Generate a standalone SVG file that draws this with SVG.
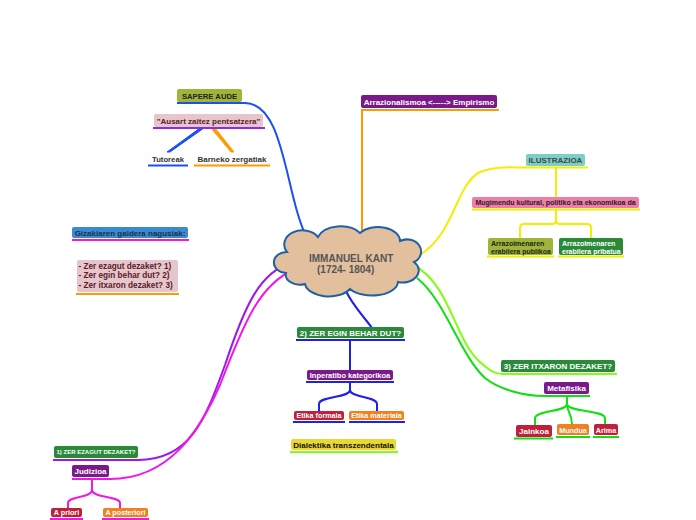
<svg xmlns="http://www.w3.org/2000/svg" width="696" height="520" viewBox="0 0 696 520">
<style>
text{font-family:"Liberation Sans",Arial,sans-serif;font-weight:bold;font-size:8px}
.c{text-anchor:middle}
.w{fill:#ffffff}
.k{fill:#222222}
.m{fill:#5a1a2a}
.ul{fill:none;stroke-width:2}
.cn{fill:none;stroke-width:2}
.blue{stroke:#1a50f0}
.purp{stroke:#8a2ce8}
.ora{stroke:#ff9a00}
.yel{stroke:#f0f000}
.mag{stroke:#f018e8}
.dblue{stroke:#2020e8}
.lime{stroke:#80ff10}
.grn{stroke:#10e010}
.viol{stroke:#9a18f0}
.g{fill:#2a8a3a}
.p{fill:#7a1a8a}
.r{fill:#c0203a}
.o{fill:#f08020}
.ol{fill:#9fb53a}
.pk{fill:#e6c6ca}
</style>
<g id="connectors">
<path class="cn blue" d="M245,103 C285,103 285,195 307,238"/>
<path class="cn ora" d="M362,110 V234"/>
<path class="cn yel" d="M418,256 C455,235 455,185 480,172 C495,166 510,167.5 524,167.5"/>
<path class="cn yel" d="M556,167 V197"/>
<path class="cn yel" d="M556,209 V220 Q556,224 552,224 H524 Q520,224 520,228 V238"/>
<path class="cn yel" d="M556,220 Q556,224 560,224 H587 Q591,224 591,228 V238"/>
<path class="cn lime" d="M415,266 C450,285 455,340 480,362 C490,371 495,374 503,374"/>
<path class="cn grn" d="M417,278 C445,300 460,355 485,378 C500,390 525,396 544,396"/>
<path class="cn dblue" d="M345,289 C352,305 365,318 372,328"/>
<path class="cn dblue" d="M350,340 V370"/>
<path class="cn dblue" d="M350,382 V390 C350,398 319,396 319,404 V411"/>
<path class="cn dblue" d="M350,390 C350,398 377,396 377,404 V411"/>
<path class="cn grn" d="M567,396 V404 C567,412 536,410 535,418 V425"/>
<path class="cn grn" d="M567,404 C567,412 572,414 572,424"/>
<path class="cn grn" d="M567,404 C567,412 604,410 605,418 V424"/>
<path class="cn viol" d="M138,460 C190,460 205,420 225,365 C245,305 260,272 291,263"/>
<path class="cn mag" d="M110,479 C170,479 200,430 220,385 C245,320 260,285 293,270"/>
<path class="cn mag" d="M92,479 V490 C92,498 68,496 68,503 V508"/>
<path class="cn mag" d="M92,490 C92,498 120,496 120,503 V508"/>
<path fill="#1a50f0" stroke="#1a50f0" stroke-width="1" d="M200,128 L167,152 L170,152 L204,128 Z"/>
<path fill="#ff9a00" stroke="#ff9a00" stroke-width="1" d="M211,128 L231,152 L234,152 L215,128 Z"/>
</g>
<g id="kant">
<path fill="#e2c09e" stroke="#1f5fa8" stroke-width="2" d="M287,252 A18,14 0 0 1 318,237 A24,16 0 0 1 360,233 A22,14 0 0 1 400,241 A14,12 0 0 1 414,262 A16,12 0 0 1 398,282 A26,14 0 0 1 350,289 A24,14 0 0 1 305,284 A14,10 0 0 1 286,273 A12,10 0 0 1 287,252 Z"/>
<text x="309" y="262" style="font-size:10px;fill:#555555">IMMANUEL KANT</text>
<text x="317" y="272.5" style="font-size:10px;fill:#555555">(1724- 1804)</text>
</g>
<g id="sapere">
<rect class="ol" x="177" y="89" width="65" height="13" rx="2"/>
<text class="c k" x="209.5" y="98.5" style="font-size:7.7px">SAPERE AUDE</text>
<path class="ul blue" d="M177,103 H246"/>
</g>
<g id="ausart">
<rect class="pk" x="154" y="114" width="109" height="13" rx="2"/>
<text class="c m" x="208.5" y="123.5">"Ausart zaitez pentsatzera"</text>
<path class="ul purp" d="M153,128 H265"/>
</g>
<g id="tutoreak">
<text class="c" x="168" y="161.5" style="fill:#333333;font-size:7.7px">Tutoreak</text>
<path class="ul blue" d="M148,165.5 H188"/>
</g>
<g id="barneko">
<text class="c" x="232" y="161.5" style="fill:#333333">Barneko zergatiak</text>
<path class="ul ora" d="M194,165.5 H270"/>
</g>
<g id="arrazionalismoa">
<rect class="p" x="361" y="95" width="136" height="13" rx="2"/>
<text class="c w" x="429" y="104.5">Arrazionalismoa &lt;-----&gt; Empirismo</text>
<path class="ul ora" d="M361,110 H499"/>
</g>
<g id="ilustrazioa">
<rect x="526" y="154" width="59" height="12" rx="2" fill="#7ccfc6"/>
<text class="c" x="555.5" y="163" style="fill:#444444">ILUSTRAZIOA</text>
<path class="ul yel" d="M524,167.5 H588"/>
</g>
<g id="mugimendu">
<rect x="472" y="197" width="167" height="11" rx="2" fill="#f07ca8"/>
<text class="c k" x="555.5" y="205" style="font-size:7px">Mugimendu kultural, politiko eta ekonomikoa da</text>
<path class="ul yel" d="M472,209.5 H640"/>
</g>
<g id="publikoa">
<rect class="ol" x="488" y="238" width="65" height="17" rx="2"/>
<text class="k" x="491" y="246" style="font-size:7px">Arrazoimenaren</text>
<text class="k" x="491" y="253.5" style="font-size:7px">erabilera publikoa</text>
<path class="ul yel" d="M487,256.5 H554"/>
</g>
<g id="pribatua">
<rect class="g" x="559" y="238" width="64" height="17" rx="2"/>
<text class="w" x="562" y="246" style="font-size:7px">Arrazoimenaren</text>
<text class="w" x="562" y="253.5" style="font-size:7px">erabilera pribatua</text>
<path class="ul yel" d="M558,256.5 H624"/>
</g>
<g id="gizakiaren">
<rect x="72" y="227" width="116" height="11" rx="2" fill="#3a8ad0"/>
<text class="c" x="130" y="235.5" style="fill:#1a3050">Gizakiaren galdera nagusiak:</text>
<path class="ul mag" d="M72,240 H189"/>
</g>
<g id="galderak">
<rect class="pk" x="77" y="260" width="101" height="32" rx="2"/>
<text class="m" x="78.5" y="268.5" style="font-size:8.2px">- Zer ezagut dezaket? 1)</text>
<text class="m" x="78.5" y="278" style="font-size:8.2px">- Zer egin behar dut? 2)</text>
<text class="m" x="78.5" y="287.5" style="font-size:8.2px">- Zer itxaron dezaket? 3)</text>
<path class="ul ora" d="M76,294 H179"/>
</g>
<g id="zer-egin">
<rect class="g" x="297" y="327" width="107" height="11" rx="2"/>
<text class="c w" x="350.5" y="335.5">2) ZER EGIN BEHAR DUT?</text>
<path class="ul dblue" d="M296,340 H405"/>
</g>
<g id="inperatibo">
<rect class="p" x="307" y="370" width="86" height="10" rx="2"/>
<text class="c w" x="350" y="378" style="font-size:7.5px">Inperatibo kategorikoa</text>
<path class="ul dblue" d="M306,382 H394"/>
</g>
<g id="etika-formala">
<rect class="r" x="294" y="411" width="50" height="9" rx="2"/>
<text class="c w" x="319" y="418.3" style="font-size:7.2px">Etika formala</text>
<path class="ul dblue" d="M293,422 H345"/>
</g>
<g id="etika-materiala">
<rect class="o" x="349" y="411" width="55" height="9" rx="2"/>
<text class="c w" x="376.5" y="418.3" style="font-size:7.2px">Etika materiala</text>
<path class="ul dblue" d="M349,422 H405"/>
</g>
<g id="dialektika">
<rect x="291" y="439" width="105" height="11" rx="2" fill="#e8d830"/>
<text class="c" x="343.5" y="447.5" style="fill:#111111">Dialektika transzendentala</text>
<path class="ul lime" d="M290,452 H398"/>
</g>
<g id="zer-itxaron">
<rect class="g" x="501" y="360" width="114" height="12" rx="2"/>
<text class="c w" x="558" y="369">3) ZER ITXARON DEZAKET?</text>
<path class="ul lime" d="M501,374 H617"/>
</g>
<g id="metafisika">
<rect class="p" x="544" y="382" width="45" height="12" rx="2"/>
<text class="c w" x="566.5" y="391">Metafisika</text>
<path class="ul grn" d="M543,396 H590"/>
</g>
<g id="jainkoa">
<rect class="r" x="516" y="425" width="36" height="12" rx="2"/>
<text class="c w" x="534" y="434">Jainkoa</text>
<path class="ul grn" d="M514,438.5 H553"/>
</g>
<g id="mundua">
<rect class="o" x="557" y="424" width="32" height="11" rx="2"/>
<text class="c w" x="573" y="432.5" style="font-size:7.2px">Mundua</text>
<path class="ul grn" d="M556,437 H590"/>
</g>
<g id="arima">
<rect class="r" x="594" y="424" width="24" height="11" rx="2"/>
<text class="c w" x="606" y="432.5" style="font-size:7.2px">Arima</text>
<path class="ul grn" d="M593,437 H619"/>
</g>
<g id="zer-ezagut">
<rect class="g" x="54" y="446" width="84" height="12" rx="2"/>
<text class="c w" x="96" y="454.3" style="font-size:6px">1) ZER EZAGUT DEZAKET?</text>
<path class="ul viol" d="M53,460 H140"/>
</g>
<g id="judizioa">
<rect class="p" x="72" y="465" width="37" height="12" rx="2"/>
<text class="c w" x="90.5" y="474">Judizioa</text>
<path class="ul mag" d="M72,479 H112"/>
</g>
<g id="a-priori">
<rect class="r" x="51" y="508" width="31" height="9" rx="2"/>
<text class="c w" x="66.5" y="515.3" style="font-size:7.2px">A priori</text>
<path class="ul mag" d="M50,519 H83"/>
</g>
<g id="a-posteriori">
<rect class="o" x="103" y="508" width="45" height="9" rx="2"/>
<text class="c w" x="125.5" y="515.3" style="font-size:7.2px">A posteriori</text>
<path class="ul mag" d="M102,519 H149"/>
</g>
</svg>
